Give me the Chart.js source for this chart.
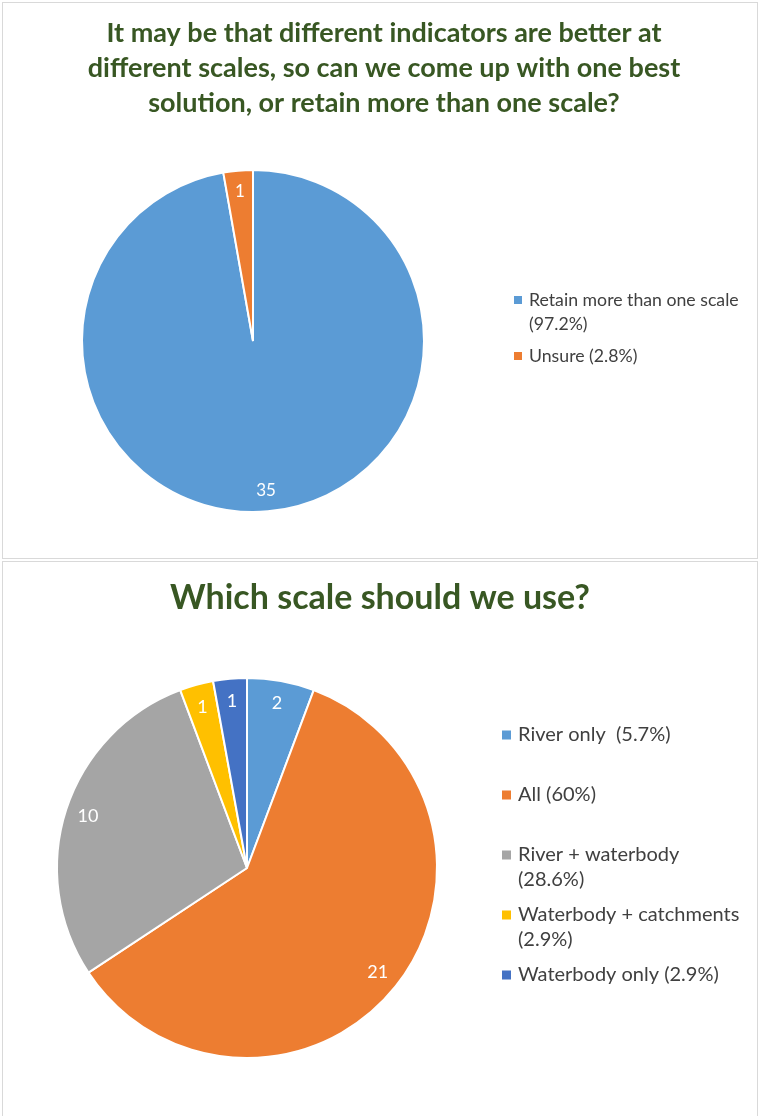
<!DOCTYPE html>
<html>
<head>
<meta charset="utf-8">
<title>Scale survey</title>
<script src="https://cdn.jsdelivr.net/npm/chart.js@4.4.1/dist/chart.umd.min.js"></script>
<style>
  body { margin: 0; background: #fff; width: 758px; height: 1116px; overflow: hidden; position: relative; }
  .panel { position: absolute; left: 2px; width: 756px; border: 1px solid #d9d9d9; box-sizing: border-box; background: #fff; }
  #panelTop { top: 2px; height: 557px; }
  #panelBottom { top: 561px; height: 560px; }
  canvas { display: block; }
</style>
</head>
<body>
<div class="panel" id="panelTop"><canvas id="retainChart" width="754" height="555"></canvas></div>
<div class="panel" id="panelBottom"><canvas id="scaleChart" width="754" height="558"></canvas></div>
<script>
// Question 1: one best solution or more than one scale?
const retainTitle = [
  'It may be that different indicators are better at',
  'different scales, so can we come up with one best',
  'solution, or retain more than one scale?'
];
const retainLabels = ['Retain more than one scale', 'Unsure'];
const retainValues = [35, 1];
const retainLegend = [['Retain more than one scale', '(97.2%)'], ['Unsure (2.8%)']];
const retainColors = ['#5B9BD5', '#ED7D31'];

// Question 2: which scale?
const scaleTitle = ['Which scale should we use?'];
const scaleLabels = ['River only', 'All', 'River + waterbody', 'Waterbody + catchments', 'Waterbody only'];
const scaleValues = [2, 21, 10, 1, 1];
const scaleLegend = [
  ['River only  (5.7%)'],
  ['All (60%)'],
  ['River + waterbody', '(28.6%)'],
  ['Waterbody + catchments', '(2.9%)'],
  ['Waterbody only (2.9%)']
];
const scaleColors = ['#5B9BD5', '#ED7D31', '#A5A5A5', '#FFC000', '#4472C4'];

const FONT = 'Lato, "Open Sans", sans-serif';

// title + side legend drawn straight onto the chart canvas
function panelText(title, legend, o) {
  return {
    id: 'panelText',
    afterDraw(chart) {
      const ctx = chart.ctx;
      ctx.save();
      ctx.textBaseline = 'middle';
      ctx.textAlign = 'center';
      ctx.fillStyle = '#385723';
      ctx.font = o.titleFont;
      title.forEach((line, i) => ctx.fillText(line, o.titleX, o.titleY + i * o.titleLine));

      const colors = chart.data.datasets[0].backgroundColor;
      ctx.textAlign = 'left';
      ctx.font = o.legendFont;
      legend.forEach((lines, i) => {
        const y = o.legendY + i * o.legendGap;
        ctx.fillStyle = colors[i];
        ctx.fillRect(o.boxX, y - o.boxSize / 2, o.boxSize, o.boxSize);
        ctx.fillStyle = '#404040';
        lines.forEach((t, j) => ctx.fillText(t, o.textX, y + j * o.legendLine));
      });
      ctx.restore();
    }
  };
}

// white count labels inside each slice
function sliceValues(font) {
  return {
    id: 'sliceValues',
    afterDatasetsDraw(chart) {
      const ctx = chart.ctx;
      const values = chart.data.datasets[0].data;
      ctx.save();
      ctx.font = font;
      ctx.fillStyle = '#fff';
      ctx.textAlign = 'center';
      ctx.textBaseline = 'middle';
      chart.getDatasetMeta(0).data.forEach((arc, i) => {
        const p = arc.getProps(['x', 'y', 'startAngle', 'endAngle', 'outerRadius'], true);
        const mid = (p.startAngle + p.endAngle) / 2;
        const d = p.outerRadius * 0.88;
        ctx.fillText(String(values[i]), p.x + Math.cos(mid) * d, p.y + Math.sin(mid) * d);
      });
      ctx.restore();
    }
  };
}

function pie(id, labels, values, colors, radius, padding, valueFont, text) {
  return new Chart(document.getElementById(id), {
    type: 'pie',
    data: {
      labels: labels,
      datasets: [{
        data: values,
        backgroundColor: colors,
        borderColor: '#fff',
        borderWidth: 2
      }]
    },
    options: {
      responsive: false,
      animation: false,
      devicePixelRatio: 1,
      events: [],
      radius: radius,
      layout: { padding: padding },
      plugins: { legend: { display: false }, tooltip: { enabled: false } }
    },
    plugins: [sliceValues(valueFont), text]
  });
}

pie('retainChart', retainLabels, retainValues, retainColors, 171,
  { left: 0, right: 254, top: 150, bottom: 29 }, '17px ' + FONT,
  panelText(retainTitle, retainLegend, {
    titleFont: 'bold 27px ' + FONT, titleX: 381, titleY: 30, titleLine: 35,
    legendFont: '17.7px ' + FONT, legendY: 297, legendGap: 56, legendLine: 24,
    boxX: 511, boxSize: 8, textX: 526
  }));

pie('scaleChart', scaleLabels, scaleValues, scaleColors, 190,
  { left: 0, right: 266, top: 150, bottom: 96 }, '18px ' + FONT,
  panelText(scaleTitle, scaleLegend, {
    titleFont: 'bold 34px ' + FONT, titleX: 377, titleY: 36, titleLine: 40,
    legendFont: '20px ' + FONT, legendY: 173, legendGap: 60, legendLine: 25,
    boxX: 499, boxSize: 9, textX: 515
  }));
</script>
</body>
</html>
